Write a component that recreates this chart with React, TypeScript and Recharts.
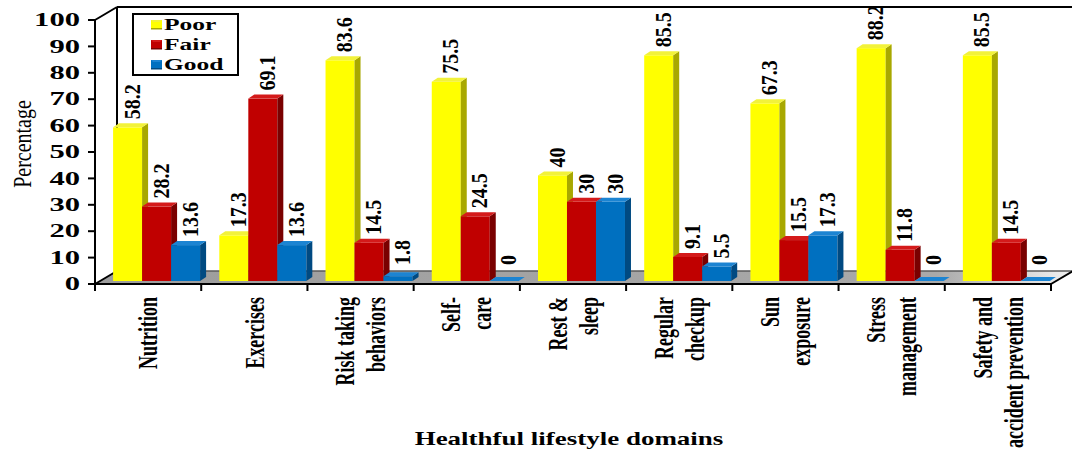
import React from 'react';
import { BarChart, Bar, XAxis, YAxis, Legend, LabelList } from 'recharts';

// lifestyle domains (line breaks = wrapped tick label lines)
const categories = [
  'Nutrition',
  'Exercises',
  'Risk taking\nbehaviors',
  'Self-\ncare',
  'Rest &\nsleep',
  'Regular\ncheckup',
  'Sun\nexposure',
  'Stress\nmanagement',
  'Safety and\naccident prevention',
];

const poor = [58.2, 17.3, 83.6, 75.5, 40, 85.5, 67.3, 88.2, 85.5];
const fair = [28.2, 69.1, 14.5, 24.5, 30, 9.1, 15.5, 11.8, 14.5];
const good = [13.6, 13.6, 1.8, 0, 30, 5.5, 17.3, 0, 0];

const yTicks = [0, 10, 20, 30, 40, 50, 60, 70, 80, 90, 100];

const data = categories.map((name, i) => ({ name, poor: poor[i], fair: fair[i], good: good[i] }));

// layout
const W = 1072;
const H = 452;
const PLOT_L = 95;
const PLOT_R = 1051;
const PLOT_T = 20;
const PLOT_B = 284;
const DEPTH_X = 22; // back wall offset
const DEPTH_Y = -13;
const SHIFT_X = 8; // bars sit a little into the floor
const SHIFT_Y = -3;
const BAR_DX = 6; // bar own depth
const BAR_DY = -4;
const BAND = (PLOT_R - PLOT_L) / categories.length;

const FONT = '"Liberation Serif", "Times New Roman", serif';

type Palette = { front: string; side: string; top: string };

const series: { key: string; name: string; colors: Palette }[] = [
  { key: 'poor', name: 'Poor', colors: { front: '#ffff00', side: '#a8a800', top: '#f2f23a' } },
  { key: 'fair', name: 'Fair', colors: { front: '#c00000', side: '#7a0000', top: '#d41a1a' } },
  { key: 'good', name: 'Good', colors: { front: '#0070c0', side: '#004a82', top: '#1c84d2' } },
];

function make3DBar(p: Palette) {
  return (props: any) => {
    const { x, y, width } = props;
    const h = Math.max(props.height || 0, 0);
    const fx = x + SHIFT_X;
    const fy = y + SHIFT_Y;
    const bot = fy + h;
    const r = fx + width;
    return (
      <g>
        {h > 0 && <rect x={fx} y={fy} width={width} height={h} fill={p.front} />}
        {h > 0 && (
          <polygon
            points={`${r},${fy} ${r + BAR_DX},${fy + BAR_DY} ${r + BAR_DX},${bot + BAR_DY} ${r},${bot}`}
            fill={p.side}
          />
        )}
        <polygon
          points={`${fx},${fy} ${fx + BAR_DX},${fy + BAR_DY} ${r + BAR_DX},${fy + BAR_DY} ${r},${fy}`}
          fill={p.top}
        />
      </g>
    );
  };
}

const ValueLabel = (props: any) => {
  const { x, y, width, value } = props;
  const cx = x + width / 2 + SHIFT_X + 4;
  const base = Math.min(y + SHIFT_Y - 8, 265);
  return (
    <text
      transform={`translate(${cx},${base}) scale(1.18,1) rotate(-90)`}
      textAnchor="start"
      dy="0.34em"
      fontFamily={FONT}
      fontWeight="bold"
      fontSize={20}
      fill="#000"
    >
      {value}
    </text>
  );
};

const YTick = (props: any) => {
  const { x, y, payload } = props;
  return (
    <text
      transform={`translate(${x},${y}) scale(1.7,1)`}
      textAnchor="end"
      dy="0.34em"
      fontFamily={FONT}
      fontWeight="bold"
      fontSize={18}
      fill="#000"
    >
      {payload.value}
    </text>
  );
};

const XTick = (props: any) => {
  const { x, y, payload, index } = props;
  const lines = String(payload.value).split('\n');
  const gap = 31;
  return (
    <g>
      {index === 0 && <line x1={x - BAND / 2} y1={y} x2={x - BAND / 2} y2={y + 7} stroke="#000" strokeWidth={2} />}
      <line x1={x + BAND / 2} y1={y} x2={x + BAND / 2} y2={y + 7} stroke="#000" strokeWidth={2} />
      {lines.map((ln, i) => (
        <text
          key={i}
          transform={`translate(${x + (i - (lines.length - 1) / 2) * gap},${y + 13}) scale(1.55,1) rotate(-90)`}
          textAnchor="end"
          dy="0.33em"
          fontFamily={FONT}
          fontWeight="bold"
          fontSize={18}
          fill="#000"
        >
          {ln}
        </text>
      ))}
    </g>
  );
};

const YTitle = (props: any) => {
  const { viewBox } = props;
  const cy = viewBox.y + viewBox.height / 2 - 8;
  return (
    <text
      transform={`translate(23,${cy}) scale(1.3,1) rotate(-90)`}
      textAnchor="middle"
      dy="0.3em"
      fontFamily={FONT}
      fontSize={20}
      fill="#000"
    >
      Percentage
    </text>
  );
};

const XTitle = (props: any) => {
  const { viewBox } = props;
  return (
    <text
      transform={`translate(${viewBox.x + viewBox.width / 2 - 4},${viewBox.y + 161}) scale(1.42,1)`}
      textAnchor="middle"
      fontFamily={FONT}
      fontWeight="bold"
      fontSize={19}
      fill="#000"
    >
      Healthful lifestyle domains
    </text>
  );
};

const LegendBox = () => (
  <svg width={107} height={63} style={{ display: 'block' }}>
    <rect x={1} y={1} width={105} height={61} fill="#fff" stroke="#000" strokeWidth={2} />
    {series.map((s, i) => {
      const top = 7 + i * 20;
      return (
        <g key={s.key}>
          <rect x={19} y={top} width={11} height={9} fill={s.colors.front} />
          <polygon points={`19,${top} 30,${top} 28,${top + 2} 21,${top + 2}`} fill={s.colors.top} />
          <rect x={19} y={top + 8} width={11} height={1.5} fill={s.colors.side} />
          <text
            transform={`translate(32,${top + 10}) scale(1.5,1)`}
            fontFamily={FONT}
            fontWeight="bold"
            fontSize={17}
            fill="#000"
          >
            {s.name}
          </text>
        </g>
      );
    })}
  </svg>
);

// back wall, floor and the receding edges of the box
const Frame = () => {
  const bl = PLOT_L + DEPTH_X;
  const bb = PLOT_B + DEPTH_Y;
  const bt = PLOT_T + DEPTH_Y;
  const br = PLOT_R + DEPTH_X;
  return (
    <svg width={W} height={H} style={{ position: 'absolute', left: 0, top: 0 }}>
      <defs>
        <linearGradient id="floorShade" x1="0" y1="0" x2="1" y2="0">
          <stop offset="0" stopColor="#9d9d9d" />
          <stop offset="0.86" stopColor="#a9a9a9" />
          <stop offset="1" stopColor="#f2f2f2" />
        </linearGradient>
      </defs>
      <polygon
        points={`${PLOT_L},${PLOT_B} ${PLOT_R},${PLOT_B} ${br},${bb} ${bl},${bb}`}
        fill="url(#floorShade)"
      />
      <line x1={bl} y1={bb} x2={br} y2={bb} stroke="#5a5a5a" strokeWidth={1.5} />
      <line x1={bl} y1={bt} x2={W} y2={bt} stroke="#000" strokeWidth={2} />
      <line x1={bl} y1={bt} x2={bl} y2={bb} stroke="#000" strokeWidth={2} />
      <line x1={PLOT_L} y1={PLOT_T} x2={bl} y2={bt} stroke="#000" strokeWidth={2} />
      <line x1={PLOT_L} y1={PLOT_B} x2={bl} y2={bb} stroke="#000" strokeWidth={2} />
      <line x1={PLOT_R} y1={PLOT_B} x2={br} y2={bb} stroke="#000" strokeWidth={2} />
    </svg>
  );
};

export default function App() {
  return (
    <div style={{ position: 'absolute', left: 0, top: 0, width: W, height: H, background: '#fff' }}>
      <Frame />
      <div style={{ position: 'absolute', left: 0, top: 0 }}>
        <BarChart
          width={W}
          height={H}
          data={data}
          margin={{ top: PLOT_T, right: W - PLOT_R, bottom: 18, left: 0 }}
          barCategoryGap="9.5%"
          barGap={0}
        >
          <XAxis
            dataKey="name"
            interval={0}
            height={150}
            tickSize={0}
            tickMargin={0}
            tickLine={false}
            axisLine={{ stroke: '#000', strokeWidth: 2 }}
            tick={<XTick />}
            label={<XTitle />}
          />
          <YAxis
            domain={[0, 100]}
            ticks={yTicks}
            interval={0}
            width={PLOT_L}
            tickSize={7}
            tickMargin={8}
            axisLine={{ stroke: '#000', strokeWidth: 2 }}
            tickLine={{ stroke: '#000', strokeWidth: 2 }}
            tick={<YTick />}
            label={<YTitle />}
          />
          {/* middle + center keeps the legend from reserving any chart space */}
          <Legend
            layout="horizontal"
            align="center"
            verticalAlign="middle"
            content={<LegendBox />}
            wrapperStyle={{ position: 'absolute', left: 132, top: 13, width: 107, height: 63 }}
          />
          {series.map((s) => (
            <Bar
              key={s.key}
              dataKey={s.key}
              name={s.name}
              fill={s.colors.front}
              shape={make3DBar(s.colors)}
              isAnimationActive={false}
            >
              <LabelList dataKey={s.key} content={<ValueLabel />} />
            </Bar>
          ))}
        </BarChart>
      </div>
    </div>
  );
}
